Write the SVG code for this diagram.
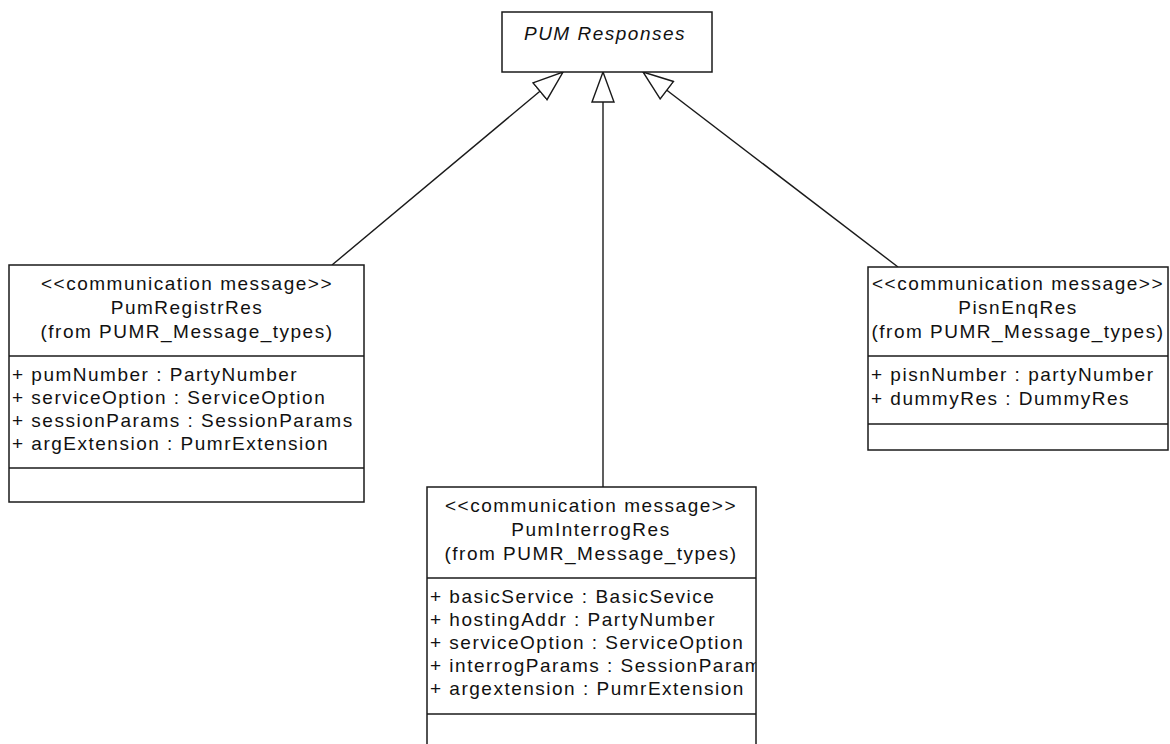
<svg xmlns="http://www.w3.org/2000/svg" width="1170" height="744" viewBox="0 0 1170 744">
<style>
  .box { fill: #ffffff; stroke: #1a1a1a; stroke-width: 1.5; }
  .div { stroke: #1a1a1a; stroke-width: 1.5; }
  text { font-family: "Liberation Sans", Arial, sans-serif; font-size: 19px; fill: #111111; letter-spacing: 1.5px; }
  .c { text-anchor: middle; }
  .it { font-style: italic; }
  .conn { stroke: #1a1a1a; stroke-width: 1.4; fill: none; marker-end: url(#gen); }
</style>
<defs>
  <marker id="gen" viewBox="0 0 32 24" refX="31" refY="12" markerWidth="32" markerHeight="24" markerUnits="userSpaceOnUse" orient="auto">
    <path d="M1,1 L31,12 L1,23 Z" fill="#ffffff" stroke="#1a1a1a" stroke-width="1.4"/>
  </marker>
  <clipPath id="clipMid"><rect x="427" y="487" width="329" height="270"/></clipPath>
</defs>
<rect width="1170" height="744" fill="#ffffff"/>

<g id="connectors">
  <line class="conn" x1="332" y1="265" x2="563" y2="72"/>
  <line class="conn" x1="603" y1="487" x2="603" y2="72"/>
  <line class="conn" x1="898" y1="267" x2="643" y2="72"/>
</g>

<g id="PUMResponses">
  <rect class="box" x="502" y="12" width="210" height="60"/>
  <text class="c it" x="605" y="40">PUM Responses</text>
</g>

<g id="PumRegistrRes">
  <rect class="box" x="9" y="265" width="355" height="237"/>
  <line class="div" x1="9" y1="356" x2="364" y2="356"/>
  <line class="div" x1="9" y1="468" x2="364" y2="468"/>
  <text class="c" x="187" y="290">&lt;&lt;communication message&gt;&gt;</text>
  <text class="c" x="187" y="314">PumRegistrRes</text>
  <text class="c" x="187" y="338">(from PUMR_Message_types)</text>
  <text x="12" y="381">+ pumNumber : PartyNumber</text>
  <text x="12" y="404">+ serviceOption : ServiceOption</text>
  <text x="12" y="427">+ sessionParams : SessionParams</text>
  <text x="12" y="450">+ argExtension : PumrExtension</text>
</g>

<g id="PisnEnqRes">
  <rect class="box" x="868" y="267" width="300" height="183"/>
  <line class="div" x1="868" y1="356" x2="1168" y2="356"/>
  <line class="div" x1="868" y1="424" x2="1168" y2="424"/>
  <text class="c" x="1018" y="290">&lt;&lt;communication message&gt;&gt;</text>
  <text class="c" x="1018" y="314">PisnEnqRes</text>
  <text class="c" x="1018" y="338">(from PUMR_Message_types)</text>
  <text x="871" y="381">+ pisnNumber : partyNumber</text>
  <text x="871" y="405">+ dummyRes : DummyRes</text>
</g>

<g id="PumInterrogRes">
  <rect class="box" x="427" y="487" width="329" height="270"/>
  <line class="div" x1="427" y1="578" x2="756" y2="578"/>
  <line class="div" x1="427" y1="714" x2="756" y2="714"/>
  <g clip-path="url(#clipMid)">
    <text class="c" x="591" y="512">&lt;&lt;communication message&gt;&gt;</text>
    <text class="c" x="591" y="536">PumInterrogRes</text>
    <text class="c" x="591" y="560">(from PUMR_Message_types)</text>
    <text x="430" y="603">+ basicService : BasicSevice</text>
    <text x="430" y="626">+ hostingAddr : PartyNumber</text>
    <text x="430" y="649">+ serviceOption : ServiceOption</text>
    <text x="430" y="672">+ interrogParams : SessionParams</text>
    <text x="430" y="695">+ argextension : PumrExtension</text>
  </g>
</g>
</svg>
